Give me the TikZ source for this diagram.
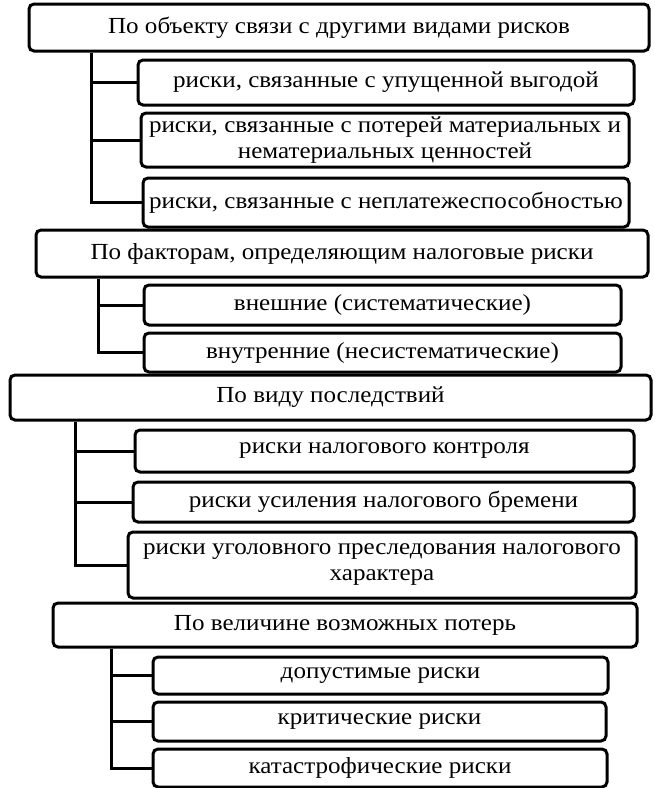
\documentclass[tikz,border=0pt]{standalone}
\usepackage{fontspec}
\setmainfont{Liberation Serif}[FakeStretch=1.09]
\begin{document}
\begin{tikzpicture}[x=1pt,y=-1pt,
  box/.style={draw=black, line width=3pt, rounded corners=5pt, fill=white, inner sep=0pt, align=center,
    font=\fontsize{23}{26}\selectfont},
  link/.style={draw=black, line width=3pt}]
\useasboundingbox[fill=white] (0,0) rectangle (654,788);
\newcommand\mybox[6]{\node[box, minimum width={#4pt-#2pt}, minimum height={#5pt-#3pt}] (#1) at ({(#2+#4)/2},{(#3+#5)/2}) {#6};}
% group 1
\mybox{h1}{29}{4}{649}{51}{По объекту связи с другими видами рисков}
\mybox{c11}{138}{60}{634}{105}{риски, связанные с упущенной выгодой}
\mybox{c12}{141}{113}{629}{167}{риски, связанные с потерей материальных и\\нематериальных ценностей}
\mybox{c13}{143}{178}{629}{227}{риски, связанные с неплатежеспособностью}
% group 2
\mybox{h2}{36}{230}{648}{277}{По факторам, определяющим налоговые риски}
\mybox{c21}{144}{285}{621}{325}{внешние (систематические)}
\mybox{c22}{144}{333}{621}{372}{внутренние (несистематические)}
% group 3
\mybox{h3}{10}{375}{651}{420}{По виду последствий}
\mybox{c31}{135}{430}{634}{472}{риски налогового контроля}
\mybox{c32}{133}{482}{634}{522}{риски усиления налогового бремени}
\mybox{c33}{128}{532}{636}{598}{риски уголовного преследования налогового\\характера}
% group 4
\mybox{h4}{53}{603}{637}{647}{По величине возможных потерь}
\mybox{c41}{153}{657}{608}{694}{допустимые риски}
\mybox{c42}{153}{702}{606}{741}{критические риски}
\mybox{c43}{153}{749}{607}{787}{катастрофические риски}
% trunks
\coordinate (t1) at (91,0);
\coordinate (t2) at (98,0);
\coordinate (t3) at (75,0);
\coordinate (t4) at (111,0);
\draw[link] (t1 |- h1.south) |- (c13.west);
\draw[link] (t1 |- c11.west) -- (c11.west);
\draw[link] (t1 |- c12.west) -- (c12.west);
\draw[link] (t2 |- h2.south) |- (c22.west);
\draw[link] (t2 |- c21.west) -- (c21.west);
\draw[link] (t3 |- h3.south) |- (c33.west);
\draw[link] (t3 |- c31.west) -- (c31.west);
\draw[link] (t3 |- c32.west) -- (c32.west);
\draw[link] (t4 |- h4.south) |- (c43.west);
\draw[link] (t4 |- c41.west) -- (c41.west);
\draw[link] (t4 |- c42.west) -- (c42.west);
\end{tikzpicture}
\end{document}
